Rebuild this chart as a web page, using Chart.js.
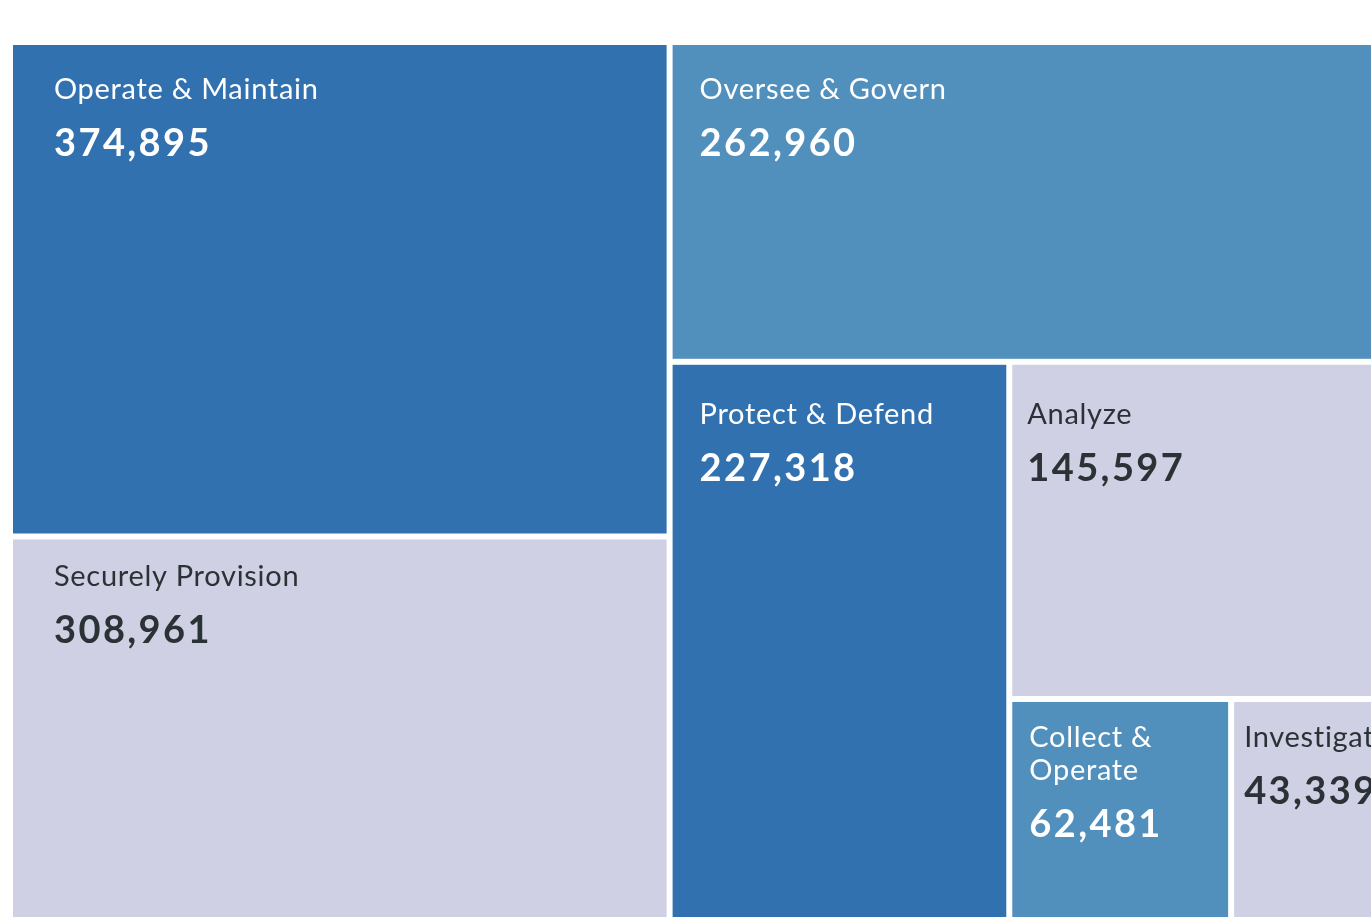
<!DOCTYPE html>
<html>
<head>
<meta charset="utf-8">
<title>Cybersecurity workforce by category</title>
<script src="https://cdn.jsdelivr.net/npm/chart.js@4"></script>
<style>
  html, body { margin: 0; padding: 0; background: #fff; overflow: hidden; }
  #wrap { position: absolute; left: 0; top: 0; width: 1385px; height: 944px; }
</style>
</head>
<body>
<div id="wrap"><canvas id="treemap"></canvas></div>
<script>
const categories = ["Operate & Maintain", "Securely Provision", "Oversee & Govern", "Protect & Defend", "Analyze", "Collect & Operate", "Investigate"];
const workforce = [374895, 308961, 262960, 227318, 145597, 62481, 43339];

// tile styling, one entry per category
const tileColors = ["#3271af", "#cfd0e3", "#5190bd", "#3271af", "#cfd0e3", "#5190bd", "#cfd0e3"];
const textColors = ["#ffffff", "#2a3236", "#ffffff", "#ffffff", "#2a3236", "#ffffff", "#2a3236"];
const padLeft = [41, 41, 27, 27, 15, 17, 10];
const padTop = [54, 47, 54, 59, 59, 45, 45];

// binary treemap split (same idea as d3.treemapBinary)
function binaryLayout(values, x0, y0, x1, y1) {
  const sums = [0];
  values.forEach((v, i) => sums.push(sums[i] + v));
  const rects = [];
  function part(i, j, value, x0, y0, x1, y1) {
    if (i >= j - 1) { rects[i] = { x0, y0, x1, y1 }; return; }
    const offset = sums[i], target = value / 2 + offset;
    let k = i + 1, hi = j - 1;
    while (k < hi) {
      const mid = (k + hi) >>> 1;
      if (sums[mid] < target) k = mid + 1; else hi = mid;
    }
    if (target - sums[k - 1] < sums[k] - target && i + 1 < k) k--;
    const left = sums[k] - offset, right = value - left;
    if (x1 - x0 > y1 - y0) {
      const xk = (x0 * right + x1 * left) / value;
      part(i, k, left, x0, y0, xk, y1);
      part(k, j, right, xk, y0, x1, y1);
    } else {
      const yk = (y0 * right + y1 * left) / value;
      part(i, k, left, x0, y0, x1, yk);
      part(k, j, right, x0, yk, x1, y1);
    }
  }
  part(0, values.length, sums[values.length], x0, y0, x1, y1);
  return rects;
}

function wrapWords(ctx, text, maxWidth) {
  const words = text.split(" ");
  const lines = [];
  let line = "";
  words.forEach(w => {
    const test = line ? line + " " + w : w;
    if (line && ctx.measureText(test).width > maxWidth) {
      lines.push(line);
      line = w;
    } else {
      line = test;
    }
  });
  if (line) lines.push(line);
  return lines;
}

const gap = 3;

const treemapPlugin = {
  id: "treemapTiles",
  afterDatasetsDraw(chart) {
    const { ctx, scales: { x, y } } = chart;
    const rects = binaryLayout(workforce, x.min, y.min, x.max, y.max);
    ctx.save();
    rects.forEach((r, i) => {
      const left = x.getPixelForValue(r.x0) + gap;
      const right = x.getPixelForValue(r.x1) - gap;
      const top = y.getPixelForValue(r.y0) + gap;
      const bottom = y.getPixelForValue(r.y1) - gap;
      ctx.fillStyle = tileColors[i];
      ctx.fillRect(left, top, right - left, bottom - top);

      ctx.fillStyle = textColors[i];
      ctx.textAlign = "left";
      ctx.textBaseline = "alphabetic";
      ctx.font = "400 29px Lato";
      ctx.letterSpacing = "0.7px";
      const lines = wrapWords(ctx, categories[i], right - left - padLeft[i] * 2);
      let baseY = top + padTop[i];
      lines.forEach((ln, n) => {
        ctx.fillText(ln, left + padLeft[i], baseY + n * 33);
      });
      baseY += (lines.length - 1) * 33 + 57;
      ctx.font = "700 38px Lato";
      ctx.letterSpacing = "2.4px";
      ctx.fillText(workforce[i].toLocaleString("en-US"), left + padLeft[i], baseY);
      ctx.letterSpacing = "0px";
    });
    ctx.restore();
  }
};

new Chart(document.getElementById("treemap"), {
  type: "scatter",
  data: { datasets: [{ data: [] }] },
  options: {
    responsive: true,
    maintainAspectRatio: false,
    animation: false,
    layout: { padding: { left: 10, top: 42, right: 0, bottom: 0 } },
    scales: {
      x: { type: "linear", min: 0, max: 1375, display: false },
      y: { type: "linear", min: 0, max: 902, reverse: true, display: false }
    },
    plugins: {
      legend: { display: false },
      tooltip: { enabled: false }
    }
  },
  plugins: [treemapPlugin]
});
</script>
</body>
</html>
